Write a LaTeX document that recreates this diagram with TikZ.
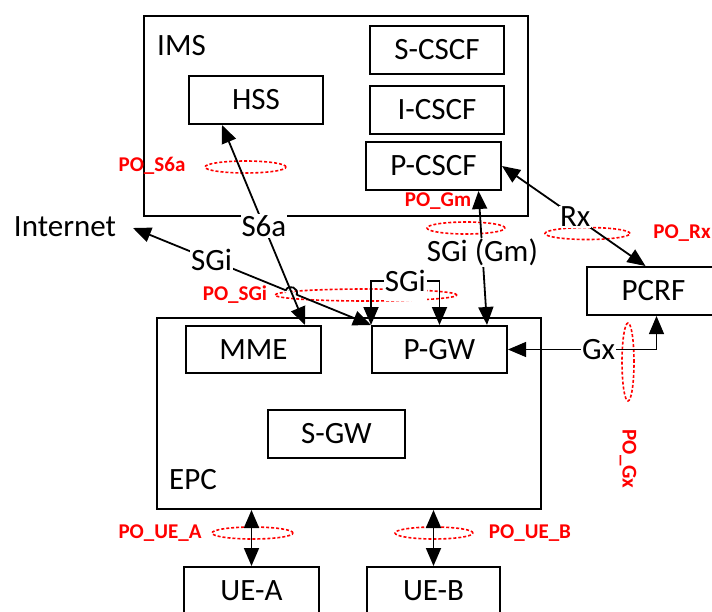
\documentclass[tikz,border=0pt]{standalone}
\usepackage{fontspec}
\setmainfont{Carlito}
\usetikzlibrary{arrows.meta}
\begin{document}
\begin{tikzpicture}[x=1pt,y=-1pt,
  every node/.style={font=\fontsize{31}{37}\selectfont, inner sep=1pt},
  box/.style={draw, line width=2pt, minimum height=48pt, inner sep=0pt},
  group/.style={draw, line width=2pt, inner sep=0pt},
  lab/.style={fill=white, inner sep=1pt},
  tip/.tip={Triangle[length=18pt 0 0, width=15pt 0 0]},
  conn/.style={line width=1.8pt, tip-tip},
  thinconn/.style={conn, line width=1.2pt},
  po/.style={draw=red, line width=1.6pt, dash pattern=on 3pt off 2pt},
  potext/.style={text=red, font=\bfseries\fontsize{21}{25}\selectfont}]
\useasboundingbox (0,0) rectangle (712,611);
\clip (0,0) rectangle (712,611);

% groups
\node[group, minimum width=384pt, minimum height=200pt] (ims) at (336,116) {};
\node[group, minimum width=384pt, minimum height=191pt] (epc) at (349,413.5) {};
\node[anchor=base west] (imslabel) at (156,55) {IMS};
\node[anchor=base west] (epclabel) at (168,489) {EPC};

% boxes
\node[box, minimum width=134pt] (hss) at (256,100) {HSS};
\node[box, minimum width=134pt] (scscf) at (437,50) {S-CSCF};
\node[box, minimum width=134pt] (icscf) at (437,110) {I-CSCF};
\node[box, minimum width=135pt] (pcscf) at (433.5,166) {P-CSCF};
\node[box, minimum width=135pt, minimum height=47pt] (mme) at (253.5,349.5) {MME};
\node[box, minimum width=135pt, minimum height=47pt] (pgw) at (439.5,349.5) {P-GW};
\node[box, minimum width=137pt] (sgw) at (336.5,434) {S-GW};
\node[box, minimum width=133pt] (pcrf) at (653.5,291) {PCRF};
\node[box, minimum width=135pt] (uea) at (251.5,591) {UE-A};
\node[box, minimum width=133pt] (ueb) at (433.5,591) {UE-B};
\node (inet) at (65,227) {Internet};
\coordinate (inettip) at (133,228);

% observation points
\draw[po] (245.5,167) ellipse [x radius=40.5pt, y radius=6pt];
\draw[po] (466,228) ellipse [x radius=39pt, y radius=6pt];
\draw[po] (587.5,233.5) ellipse [x radius=42.5pt, y radius=6pt];
\draw[po] (366,295) ellipse [x radius=91pt, y radius=6pt];
\draw[po] (628,362) ellipse [x radius=6pt, y radius=39pt];
\draw[po] (252.5,533) ellipse [x radius=40.5pt, y radius=6pt];
\draw[po] (434,533) ellipse [x radius=39pt, y radius=6pt];

\node[potext] (poS6a) at (152,166) {PO\_S6a};
\node[potext] (poGm) at (438,201) {PO\_Gm};
\node[potext] (poRx) at (682,233) {PO\_Rx};
\node[potext] (poSGi) at (235,295) {PO\_SGi};
\node[potext, rotate=-90] (poGx) at (628,459) {PO\_Gx};
\node[potext] (poUEA) at (160,533) {PO\_UE\_A};
\node[potext] (poUEB) at (530,533) {PO\_UE\_B};

% connectors
\draw[conn] (inettip) -- node[lab,pos=0.33]{SGi} (pgw.north west);
\draw[white, line width=3pt] (285.45,290.73) -- (296.55,295.27);
\draw[conn] ([xshift=-34pt]hss.south) -- node[lab,pos=0.505]{S6a} ([xshift=51.5pt]mme.north);
\draw[line width=1.8pt] (285.45,290.73) .. controls (288.5,283.3) and (299.6,287.9) .. (296.55,295.27);
\draw[conn] (pgw.north west) -- ++(0,-44) -| node[lab,pos=0.25,minimum height=40pt]{SGi} (pgw.north);
\draw[conn] ([xshift=45pt]pcscf.south) -- node[lab,pos=0.46]{SGi (Gm)} ([xshift=47.5pt]pgw.north);
\draw[conn] (pcscf.east) -- node[lab,pos=0.51]{Rx} ([xshift=-8pt]pcrf.north);
\draw[thinconn] ([xshift=3pt]pcrf.south) |- node[lab,pos=0.695]{Gx} (pgw.east);
\draw[conn] (uea.north) -- (uea.north |- epc.south);
\draw[conn] (ueb.north) -- (ueb.north |- epc.south);
\end{tikzpicture}
\end{document}
